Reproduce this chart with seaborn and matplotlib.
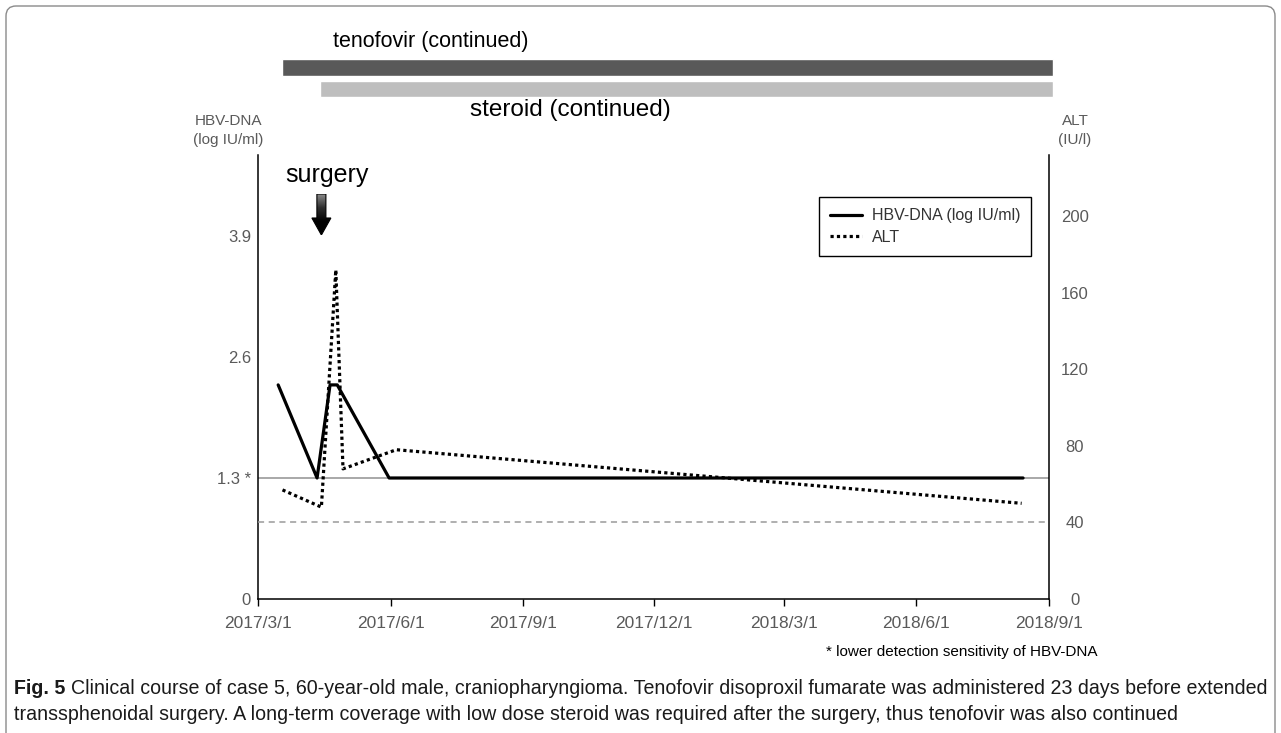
import numpy as np
import pandas as pd
import matplotlib
matplotlib.use('Agg')
import matplotlib.pyplot as plt
import matplotlib.dates as mdates
import matplotlib.transforms as mtransforms
from matplotlib.patches import FancyBboxPatch, Polygon
from matplotlib.lines import Line2D
from matplotlib.colors import LinearSegmentedColormap
from matplotlib import font_manager as fm
import seaborn as sns

# ---------------- data ----------------
hbv_dates = ['2017-03-15', '2017-04-11', '2017-04-20', '2017-04-25', '2017-05-31', '2018-08-14']
hbv_values = [2.3, 1.3, 2.3, 2.3, 1.3, 1.3]

alt_dates = ['2017-03-18', '2017-04-14', '2017-04-24', '2017-04-29', '2017-06-05', '2018-08-13']
alt_values = [57, 48, 172, 68, 78, 50]

treatment_names = ['tenofovir (continued)', 'steroid (continued)']
treatment_start = ['2017-03-18', '2017-04-13']
treatment_end = ['2018-09-04', '2018-09-04']
surgery_date = '2017-04-14'

xtick_dates = ['2017-03-01', '2017-06-01', '2017-09-01', '2017-12-01',
               '2018-03-01', '2018-06-01', '2018-09-01']
xtick_labels = ['2017/3/1', '2017/6/1', '2017/9/1', '2017/12/1',
                '2018/3/1', '2018/6/1', '2018/9/1']
hbv_ticks = [0, 1.3, 2.6, 3.9]
hbv_tick_labels = ['0', '1.3 *', '2.6', '3.9']
alt_ticks = [0, 40, 80, 120, 160, 200]
detection_limit = 1.3
alt_upper_normal = 40
legend_labels = ['HBV-DNA (log IU/ml)', 'ALT']

caption_bold = 'Fig. 5'
caption_line1 = ('Clinical course of case 5, 60-year-old male, craniopharyngioma. Tenofovir disoproxil '
                 'fumarate was administered 23 days before extended')
caption_line2 = ('transsphenoidal surgery. A long-term coverage with low dose steroid was required after '
                 'the surgery, thus tenofovir was also continued')
footnote = '* lower detection sensitivity of HBV-DNA'

# ---------------- style ----------------
sns.set_theme(style='white')
plt.rcParams['font.family'] = ['Liberation Sans', 'DejaVu Sans']

W, H = 1281, 733
fig = plt.figure(figsize=(W / 100, H / 100), dpi=100)
fig.patch.set_facecolor('white')


def fx(px):
    return px / W


def fy(py):
    return 1 - py / H


AX_L, AX_R, AX_T, AX_B = 258, 1049, 155, 599
ax = fig.add_axes([fx(AX_L), fy(AX_B), (AX_R - AX_L) / W, (AX_B - AX_T) / H])
ax.patch.set_alpha(0)
ax2 = ax.twinx()

hbv_df = pd.DataFrame({'date': pd.to_datetime(hbv_dates), 'value': hbv_values})
alt_df = pd.DataFrame({'date': pd.to_datetime(alt_dates), 'value': alt_values})

ax.axhline(detection_limit, color='#9a9a9a', lw=1.2, zorder=1)
sns.lineplot(data=hbv_df, x='date', y='value', ax=ax, color='black', lw=2.3,
             zorder=3, legend=False)
ax2.axhline(alt_upper_normal, color='#9a9a9a', lw=1.1, ls=(0, (4, 3)), zorder=1)
sns.lineplot(data=alt_df, x='date', y='value', ax=ax2, color='black', lw=2.3,
             linestyle=(0, (1, 1)), zorder=3, legend=False)

xmin, xmax = pd.Timestamp(xtick_dates[0]), pd.Timestamp(xtick_dates[-1])
ax.set_xlim(xmin, xmax)
ax.set_ylim(0, 4.77)
ax2.set_ylim(0, 232)

ax.set_xticks(pd.to_datetime(xtick_dates))
ax.set_xticklabels(xtick_labels)
ax.set_yticks(hbv_ticks)
ax.set_yticklabels(hbv_tick_labels)
ax2.set_yticks(alt_ticks)
ax2.set_yticklabels([str(v) for v in alt_ticks])
ax.set_xlabel('')
ax.set_ylabel('')
ax2.set_ylabel('')

lab_color = '#5a5a5a'
ax.tick_params(axis='x', bottom=True, length=5, width=1, direction='out', color='black',
               pad=7, labelsize=12.5, labelcolor=lab_color)
ax.tick_params(axis='y', left=False, length=0, pad=5, labelsize=12, labelcolor=lab_color)
ax2.tick_params(axis='y', right=False, length=0, pad=18.7, labelsize=12, labelcolor=lab_color)
for lab in ax2.get_yticklabels():
    lab.set_ha('center')

for s in ['top', 'right']:
    ax.spines[s].set_visible(False)
for s in ['top', 'left', 'bottom']:
    ax2.spines[s].set_visible(False)
for a, s in [(ax, 'left'), (ax, 'bottom'), (ax2, 'right')]:
    a.spines[s].set_color('black')
    a.spines[s].set_linewidth(1.1)

handles = [Line2D([], [], color='black', lw=2.3),
           Line2D([], [], color='black', lw=2.3, linestyle=(0, (1, 1)))]
leg = ax2.legend(handles, legend_labels, loc='upper left',
                 bbox_to_anchor=(fx(819), fy(197)), bbox_transform=fig.transFigure,
                 frameon=True, fancybox=False, edgecolor='black', framealpha=1,
                 fontsize=11.5, handlelength=2.0, handletextpad=0.6, borderpad=0.7,
                 labelspacing=0.4, borderaxespad=0)
leg.get_frame().set_linewidth(1.0)
for t in leg.get_texts():
    t.set_color('#333333')

# ---------------- treatment bars ----------------
ax_top = fig.add_axes([fx(AX_L), fy(100), (AX_R - AX_L) / W, 45 / H])
ax_top.set_xlim(mdates.date2num(xmin), mdates.date2num(xmax))
ax_top.set_ylim(100, 55)
ax_top.axis('off')
starts = mdates.date2num(pd.to_datetime(treatment_start))
ends = mdates.date2num(pd.to_datetime(treatment_end))
ax_top.barh([67.5, 89], ends - starts, left=starts, height=[17, 16],
            color=['#595959', '#bebebe'], clip_on=False)

fig.text(fx(333), fy(42), treatment_names[0], fontsize=15.5, ha='left', va='center', color='black')
fig.text(fx(470), fy(110), treatment_names[1], fontsize=17.5, ha='left', va='center', color='black')

# axis titles
fig.text(fx(228), fy(121), 'HBV-DNA', fontsize=11, ha='center', va='center', color=lab_color)
fig.text(fx(228), fy(140), '(log IU/ml)', fontsize=11, ha='center', va='center', color=lab_color)
fig.text(fx(1075), fy(121), 'ALT', fontsize=11, ha='center', va='center', color=lab_color)
fig.text(fx(1075), fy(140), '(IU/l)', fontsize=11, ha='center', va='center', color=lab_color)

# ---------------- surgery arrow ----------------
fig.canvas.draw()
sx = ax.transData.transform((mdates.date2num(pd.Timestamp(surgery_date)), 0))[0]
fig.text(fx(sx + 6), fy(175), 'surgery', fontsize=18, ha='center', va='center', color='black')
ax_arr = fig.add_axes([(sx - 11) / W, fy(235), 22 / W, 41 / H])
ax_arr.set_xlim(0, 22)
ax_arr.set_ylim(0, 41)
ax_arr.axis('off')
arrow_poly = Polygon([(6.5, 41), (15.5, 41), (15.5, 17), (20.5, 17), (11, 0), (1.5, 17), (6.5, 17)],
                     closed=True, facecolor='none', edgecolor='black', lw=0.8)
ax_arr.add_patch(arrow_poly)
grad = np.linspace(0, 1, 100).reshape(-1, 1)
cmap = LinearSegmentedColormap.from_list('g', ['#000000', '#000000', '#2e2e2e', '#8a8a8a'])
im = ax_arr.imshow(grad, extent=(0, 22, 0, 41), origin='lower', cmap=cmap, aspect='auto')
im.set_clip_path(arrow_poly)

# footnote
fig.text(fx(1097), fy(652), footnote, fontsize=11, ha='right', va='center', color='black')

# ---------------- caption ----------------
names = {f.name for f in fm.fontManager.ttflist}
cap_family = 'Liberation Sans Narrow' if 'Liberation Sans Narrow' in names else 'Liberation Sans'
renderer = fig.canvas.get_renderer()
fs0 = 12
tb = fig.text(0, 0, caption_bold + ' ', fontsize=fs0, weight='bold', family=cap_family)
tr = fig.text(0, 0, caption_line1, fontsize=fs0, family=cap_family)
w_total = tb.get_window_extent(renderer).width + tr.get_window_extent(renderer).width
tb.remove()
tr.remove()
fs = fs0 * (1251 / w_total)

tb = fig.text(fx(14), fy(688), caption_bold + ' ', fontsize=fs, weight='bold', family=cap_family,
              ha='left', va='center', color='#1a1a1a')
wb = tb.get_window_extent(renderer).width
fig.text(fx(14 + wb), fy(688), caption_line1, fontsize=fs, family=cap_family,
         ha='left', va='center', color='#1a1a1a')
fig.text(fx(14), fy(714), caption_line2, fontsize=fs, family=cap_family,
         ha='left', va='center', color='#1a1a1a')

# outer rounded border
border = FancyBboxPatch((6, -20), 1269, 747, boxstyle='round,pad=0,rounding_size=10',
                        facecolor='none', edgecolor='#8a8a8a', lw=1.0,
                        transform=mtransforms.IdentityTransform())
fig.add_artist(border)

fig.savefig('out.png', dpi=100)
